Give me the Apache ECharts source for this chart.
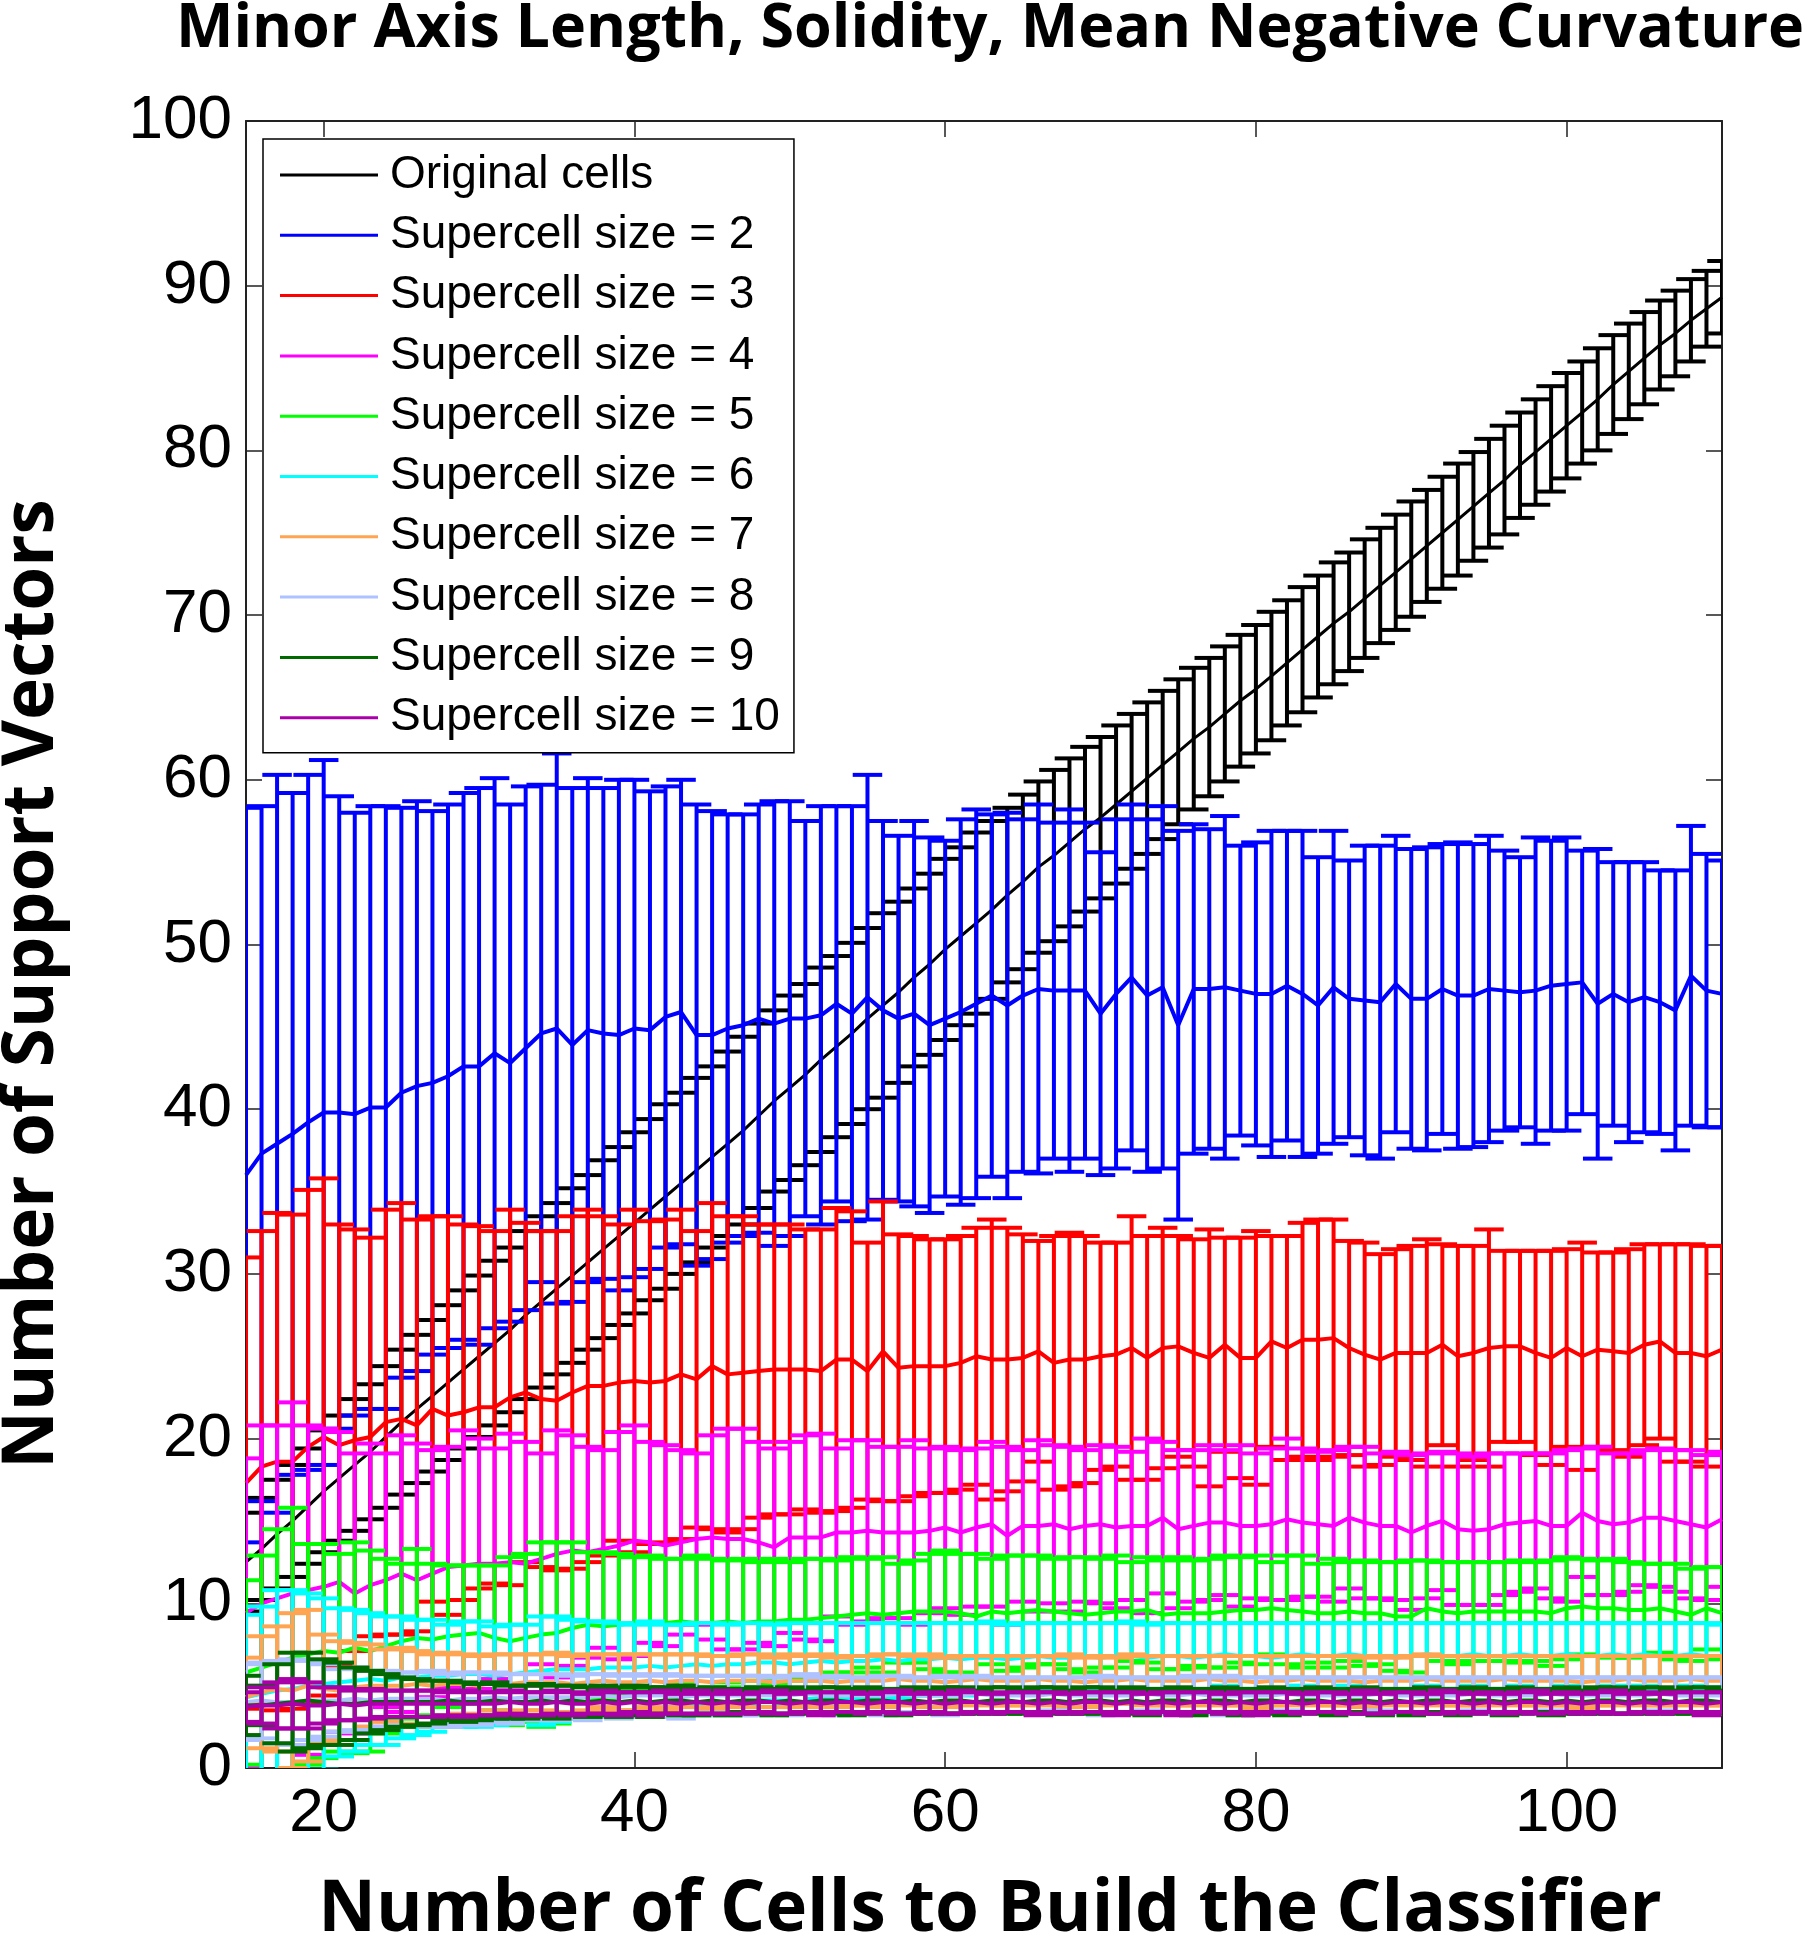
<!DOCTYPE html>
<html><head><meta charset="utf-8">
<script src="https://cdn.jsdelivr.net/npm/echarts@6/dist/echarts.min.js"></script>
<style>html,body{margin:0;padding:0;background:#fff}#c{width:1803px;height:1937px}</style>
</head><body><div id="c"></div>
<script>
const X = [15,16,17,18,19,20,21,22,23,24,25,26,27,28,29,30,31,32,33,34,35,36,37,38,39,40,41,42,43,44,45,46,47,48,49,50,51,52,53,54,55,56,57,58,59,60,61,62,63,64,65,66,67,68,69,70,71,72,73,74,75,76,77,78,79,80,81,82,83,84,85,86,87,88,89,90,91,92,93,94,95,96,97,98,99,100,101,102,103,104,105,106,107,108,109,110];
const X_TICKS = [20,40,60,80,100];

const meanOrig = [12.5,13.3,14.2,15.0,15.9,16.8,17.6,18.4,19.2,20.1,21.0,21.8,22.6,23.4,24.2,25.0,25.8,26.6,27.5,28.3,29.1,29.9,30.7,31.5,32.3,33.1,33.9,34.7,35.5,36.3,37.1,37.9,38.7,39.6,40.5,41.3,42.1,43.0,43.8,44.6,45.5,46.3,47.1,48.0,48.8,49.7,50.5,51.3,52.1,53.0,53.8,54.7,55.4,56.2,57.0,57.7,58.5,59.3,60.1,60.9,61.7,62.5,63.2,64.0,64.8,65.5,66.3,67.1,67.9,68.7,69.5,70.2,71.0,71.8,72.6,73.4,74.2,75.0,75.8,76.6,77.4,78.2,79.1,79.9,80.7,81.5,82.3,83.1,84.0,84.8,85.6,86.4,87.1,87.9,88.6,89.3];
const sdOrig = [3.0,3.1,3.3,3.4,3.5,3.7,3.8,4.0,4.1,4.3,4.4,4.5,4.6,4.7,4.8,4.9,5.0,5.0,5.1,5.2,5.2,5.3,5.3,5.4,5.4,5.5,5.5,5.6,5.5,5.6,5.5,5.6,5.7,5.6,5.5,5.6,5.5,5.6,5.5,5.5,5.5,5.6,5.5,5.4,5.5,5.5,5.4,5.5,5.4,5.3,5.3,5.2,5.2,5.1,5.0,4.9,4.8,4.7,4.6,4.5,4.4,4.3,4.2,4.1,4.0,3.9,3.9,3.8,3.8,3.7,3.7,3.6,3.6,3.5,3.5,3.5,3.4,3.4,3.4,3.3,3.3,3.3,3.2,3.2,3.2,3.2,3.1,3.1,3.0,2.9,2.8,2.7,2.6,2.5,2.3,2.2];

const meanS2 = [36.0,37.3,37.9,38.5,39.2,39.8,39.8,39.7,40.1,40.1,41.0,41.4,41.6,42.0,42.6,42.6,43.4,42.8,43.7,44.6,44.9,43.9,44.8,44.6,44.5,44.9,44.8,45.6,45.9,44.5,44.5,44.9,45.1,45.5,45.2,45.5,45.5,45.7,46.4,45.8,46.8,46.0,45.5,45.8,45.1,45.5,45.9,46.4,46.9,46.3,46.9,47.3,47.2,47.2,47.2,45.8,47.0,48.0,46.9,47.4,45.1,47.3,47.3,47.4,47.2,47.0,47.0,47.5,47.0,46.3,47.4,46.7,46.6,46.5,47.6,46.7,46.7,47.3,46.9,46.9,47.3,47.2,47.1,47.2,47.5,47.6,47.7,46.4,47.0,46.5,46.8,46.5,46.0,48.1,47.2,47.0];
const sdS2 = [22.3,21.1,22.4,20.7,21.1,21.4,19.2,18.3,18.3,18.3,17.3,17.3,16.5,16.5,16.6,16.9,16.7,15.7,15.9,15.1,16.7,15.6,15.3,14.9,15.5,15.1,14.5,14.0,14.1,14.0,13.6,13.0,12.8,13.0,13.5,13.2,12.0,12.7,12.0,12.6,13.5,11.5,11.1,11.7,11.4,10.8,11.7,11.8,11.0,11.7,10.7,11.2,10.2,11.0,10.2,9.8,10.6,10.5,10.7,11.0,11.8,10.0,9.7,10.4,8.8,9.2,9.9,9.4,9.9,9.0,9.5,8.4,9.4,9.5,9.0,9.1,9.2,8.8,9.3,9.2,9.3,8.5,8.2,9.3,8.8,8.9,8.0,9.4,8.0,8.5,8.2,8.0,8.5,9.1,8.3,8.1];

const meanS3 = [17.3,18.3,18.6,18.6,19.5,20.1,19.6,19.9,20.1,21.0,21.2,20.8,21.8,21.4,21.6,21.9,21.9,22.5,22.8,22.4,22.3,22.8,23.2,23.2,23.4,23.5,23.4,23.5,23.9,23.6,24.4,23.9,24.0,24.1,24.2,24.2,24.2,24.1,24.8,24.8,24.1,25.3,24.3,24.4,24.4,24.4,24.6,25.0,24.8,24.8,24.9,25.3,24.6,24.8,24.8,25.0,25.1,25.5,24.9,25.5,25.6,25.2,24.9,25.7,24.9,24.9,25.9,25.5,26.0,26.0,26.1,25.5,25.1,24.8,25.2,25.2,25.2,25.7,25.0,25.2,25.5,25.6,25.6,25.2,24.9,25.5,25.0,25.4,25.3,25.2,25.7,25.9,25.2,25.2,25.0,25.4];
const sdS3 = [13.7,14.3,15.1,15.0,15.6,15.7,13.4,12.8,12.1,12.9,13.1,12.5,11.7,12.1,11.4,11.0,10.7,11.4,10.3,10.2,10.3,10.7,10.7,10.3,9.6,10.4,9.8,9.8,10.0,9.0,9.9,9.6,9.5,8.9,8.8,8.8,8.5,8.6,9.2,9.0,7.8,9.1,8.1,7.9,7.7,7.7,7.7,7.8,8.5,8.0,7.5,6.7,7.7,7.7,7.5,6.9,6.8,8.0,7.4,7.3,6.7,6.9,7.8,6.5,7.3,7.7,6.4,6.8,7.1,7.3,7.2,6.5,6.8,6.4,6.3,6.5,6.9,6.1,6.7,6.5,7.2,5.8,5.8,6.2,6.5,6.0,6.9,5.9,6.0,6.3,6.1,5.9,6.6,6.6,6.7,6.3];

const meanS4 = [9.4,10.0,10.3,10.6,10.8,11.0,11.3,10.6,11.1,11.4,11.8,11.4,11.8,12.2,12.3,12.4,12.4,12.5,12.4,12.7,13.0,13.2,13.1,13.3,13.5,13.8,13.7,13.5,13.7,13.9,14.0,13.9,13.9,13.7,13.4,14.0,14.0,14.0,14.3,14.3,14.4,14.3,14.3,14.3,14.4,14.6,14.3,14.6,14.8,14.1,14.7,14.7,14.8,14.5,14.7,14.8,14.6,14.7,14.7,15.2,14.5,14.7,14.9,14.9,14.7,14.7,14.8,15.1,14.9,14.8,14.7,15.2,14.9,14.7,14.7,14.3,14.7,15.0,14.5,14.4,14.5,14.8,14.9,15.0,14.7,14.7,15.5,15.0,14.8,14.9,15.2,15.2,15.0,14.8,14.6,15.1];
const sdS4 = [9.4,10.8,10.5,11.6,10.0,9.6,9.1,8.5,8.6,7.7,8.4,8.3,7.5,7.3,8.2,7.6,7.0,7.8,7.4,6.4,7.5,7.0,6.4,6.0,6.9,7.0,6.1,6.1,5.6,5.2,6.2,6.7,6.7,6.1,6.0,5.8,6.2,6.3,5.1,5.6,5.5,5.2,5.2,5.6,5.0,4.9,5.0,4.8,5.0,5.4,4.6,5.2,4.8,5.0,4.6,4.8,4.9,4.5,5.3,4.6,4.8,4.6,4.7,4.4,4.9,4.4,4.6,4.9,4.5,4.4,4.6,4.3,4.6,4.4,4.5,4.7,4.4,4.2,4.6,4.5,4.6,4.3,4.2,4.1,4.4,4.6,3.9,4.5,4.3,4.2,4.1,4.2,4.3,4.5,4.4,4.1];

const meanS5 = [5.8,6.1,6.4,6.7,6.9,7.1,7.0,7.3,7.1,7.4,7.7,7.9,7.8,8.0,8.1,8.2,7.9,7.7,7.9,8.1,8.2,8.5,8.7,8.6,8.7,8.8,8.8,8.8,8.9,8.8,8.8,8.9,8.8,8.9,8.9,9.0,9.0,9.1,9.2,9.3,9.4,9.3,9.4,9.5,9.5,9.5,9.4,9.2,9.5,9.4,9.5,9.6,9.5,9.4,9.3,9.4,9.5,9.5,9.6,9.3,9.4,9.4,9.4,9.5,9.6,9.6,9.7,9.6,9.5,9.4,9.4,9.5,9.4,9.4,9.2,9.2,9.7,9.5,9.4,9.5,9.5,9.5,9.5,9.5,9.4,9.7,9.8,9.7,9.7,9.6,9.6,9.7,9.5,9.3,9.7,9.4];
const sdS5 = [5.6,6.8,8.1,9.1,6.7,6.5,6.0,6.4,6.1,5.3,4.7,5.4,4.6,4.3,4.2,4.1,4.4,5.1,5.1,5.6,5.5,5.2,4.4,4.5,4.3,4.0,4.1,3.9,3.8,4.1,3.9,3.7,3.9,3.6,3.8,3.5,3.7,3.6,3.4,3.5,3.3,3.5,3.0,3.1,3.5,3.7,3.6,3.8,3.2,3.5,3.4,3.3,3.2,3.4,3.5,3.3,3.4,3.0,3.2,3.3,3.4,3.2,3.3,3.4,3.2,3.3,2.8,3.3,3.4,3.0,3.3,3.0,3.2,3.1,3.3,3.4,2.9,3.0,3.1,3.0,3.0,3.0,3.1,3.0,3.2,3.1,2.9,2.9,3.0,2.9,2.8,2.7,2.9,2.8,2.5,2.8];

const meanS6 = [4.3,4.5,4.7,4.8,5.0,5.1,5.2,5.3,5.4,5.3,5.5,5.5,5.6,5.6,5.7,5.7,5.6,5.7,5.8,5.9,6.0,6.0,6.0,6.1,6.1,6.1,6.2,6.1,6.2,6.3,6.2,6.3,6.3,6.4,6.4,6.3,6.4,6.5,6.4,6.5,6.5,6.6,6.5,6.6,6.6,6.7,6.6,6.7,6.7,6.6,6.7,6.8,6.7,6.7,6.8,6.7,6.8,6.8,6.7,6.8,6.8,6.7,6.8,6.9,6.8,6.8,6.7,6.8,6.9,6.8,6.8,6.9,6.8,6.8,6.7,6.8,6.9,6.8,6.8,6.9,6.8,6.8,6.9,6.8,6.8,6.9,6.8,6.8,6.9,6.8,6.9,6.8,6.8,6.9,6.8,6.8];
const sdS6 = [5.0,5.3,6.1,6.0,5.6,5.2,4.5,4.3,4.0,3.9,3.7,3.5,3.4,3.1,3.2,3.2,3.0,3.0,2.9,3.3,3.2,3.0,2.9,2.8,2.7,2.6,2.7,2.6,2.5,2.5,2.6,2.4,2.5,2.4,2.3,2.5,2.4,2.3,2.4,2.3,2.3,2.2,2.3,2.2,2.2,2.1,2.2,2.1,2.2,2.1,2.1,2.0,2.1,2.1,2.0,2.1,2.0,2.1,2.0,2.0,2.0,2.1,2.0,1.9,2.0,2.0,2.1,2.0,1.9,2.0,2.0,1.9,2.0,2.0,2.1,2.0,1.9,2.0,2.0,1.9,2.0,2.0,1.9,2.0,2.0,1.9,2.0,2.0,1.9,2.0,1.9,2.0,2.0,1.9,2.0,1.9];

const meanS7 = [4.3,4.6,4.8,4.7,5.0,4.8,4.7,4.9,5.0,5.0,5.0,5.1,5.0,5.1,5.1,5.0,5.2,5.1,5.2,5.2,5.2,5.1,5.2,5.3,5.2,5.2,5.3,5.2,5.3,5.3,5.2,5.3,5.3,5.3,5.2,5.3,5.3,5.3,5.2,5.3,5.3,5.3,5.4,5.3,5.3,5.2,5.3,5.4,5.3,5.3,5.3,5.4,5.3,5.3,5.2,5.3,5.3,5.4,5.3,5.3,5.3,5.3,5.4,5.3,5.3,5.2,5.3,5.3,5.4,5.3,5.3,5.3,5.2,5.3,5.3,5.3,5.4,5.3,5.3,5.3,5.3,5.4,5.3,5.3,5.3,5.3,5.2,5.3,5.3,5.4,5.3,5.3,5.3,5.4,5.3,5.3];
const sdS7 = [2.4,3.4,3.8,4.7,4.6,3.3,3.0,2.7,2.5,2.2,2.3,2.0,1.9,1.9,1.8,1.8,1.7,1.8,1.7,1.7,1.8,1.7,1.7,1.6,1.7,1.7,1.6,1.7,1.6,1.6,1.6,1.5,1.6,1.6,1.5,1.6,1.5,1.6,1.5,1.5,1.5,1.6,1.5,1.5,1.6,1.5,1.5,1.4,1.5,1.5,1.5,1.4,1.5,1.6,1.5,1.5,1.4,1.5,1.5,1.5,1.5,1.5,1.4,1.5,1.5,1.6,1.5,1.5,1.4,1.5,1.5,1.5,1.5,1.5,1.4,1.5,1.5,1.5,1.5,1.5,1.5,1.4,1.5,1.5,1.5,1.5,1.6,1.5,1.5,1.4,1.5,1.5,1.5,1.4,1.5,1.5];

const meanS8 = [4.0,4.1,4.0,4.0,4.1,4.1,4.1,4.2,4.1,4.2,4.2,4.2,4.2,4.1,4.2,4.2,4.3,4.2,4.3,4.3,4.3,4.3,4.3,4.4,4.3,4.4,4.4,4.4,4.3,4.4,4.4,4.4,4.4,4.4,4.4,4.4,4.5,4.4,4.4,4.4,4.4,4.4,4.5,4.4,4.4,4.4,4.4,4.5,4.4,4.4,4.4,4.4,4.5,4.4,4.4,4.4,4.4,4.4,4.5,4.4,4.4,4.5,4.4,4.4,4.4,4.4,4.4,4.5,4.4,4.4,4.4,4.4,4.4,4.5,4.4,4.4,4.4,4.4,4.4,4.5,4.4,4.4,4.4,4.4,4.5,4.4,4.4,4.4,4.4,4.4,4.4,4.5,4.4,4.4,4.4,4.4];
const sdS8 = [2.3,2.3,2.5,2.6,2.4,2.2,1.9,1.9,1.8,1.7,1.6,1.6,1.7,1.6,1.6,1.6,1.5,1.5,1.4,1.4,1.4,1.3,1.4,1.3,1.3,1.3,1.2,1.3,1.3,1.2,1.2,1.2,1.2,1.2,1.1,1.2,1.2,1.1,1.2,1.1,1.1,1.2,1.1,1.1,1.1,1.2,1.1,1.1,1.1,1.1,1.1,1.1,1.0,1.1,1.1,1.2,1.1,1.1,1.0,1.1,1.1,1.1,1.1,1.2,1.1,1.1,1.1,1.0,1.1,1.1,1.1,1.1,1.1,1.0,1.1,1.1,1.1,1.1,1.1,1.0,1.1,1.1,1.1,1.1,1.0,1.1,1.1,1.1,1.1,1.1,1.1,1.0,1.1,1.1,1.1,1.1];

const meanS9 = [3.8,3.8,3.9,4.0,4.1,4.0,3.9,3.9,4.0,4.0,4.0,4.0,4.0,4.1,4.0,4.0,4.1,4.0,4.0,4.1,4.0,4.1,4.0,4.1,4.0,4.1,4.0,4.1,4.1,4.0,4.1,4.0,4.1,4.1,4.0,4.1,4.0,4.1,4.1,4.0,4.1,4.1,4.0,4.1,4.0,4.1,4.1,4.0,4.1,4.1,4.0,4.1,4.1,4.0,4.1,4.1,4.0,4.1,4.0,4.1,4.1,4.0,4.1,4.1,4.0,4.1,4.1,4.0,4.1,4.1,4.0,4.1,4.1,4.0,4.1,4.0,4.1,4.1,4.0,4.1,4.1,4.0,4.1,4.1,4.0,4.1,4.0,4.1,4.1,4.0,4.1,4.1,4.0,4.1,4.1,4.0];
const sdS9 = [1.8,1.2,2.4,3.0,2.9,2.6,2.5,2.2,1.9,1.7,1.5,1.4,1.3,1.2,1.2,1.1,1.1,1.0,1.0,1.0,1.0,0.9,0.9,0.9,0.9,0.9,0.9,0.8,0.9,0.8,0.8,0.8,0.7,0.8,0.8,0.8,0.7,0.8,0.8,0.8,0.8,0.7,0.8,0.8,0.7,0.8,0.8,0.7,0.8,0.8,0.7,0.8,0.8,0.7,0.8,0.8,0.7,0.8,0.8,0.7,0.8,0.8,0.7,0.8,0.8,0.7,0.8,0.8,0.7,0.8,0.8,0.7,0.8,0.8,0.7,0.8,0.8,0.7,0.8,0.8,0.7,0.8,0.8,0.7,0.8,0.8,0.7,0.8,0.8,0.7,0.8,0.8,0.7,0.8,0.8,0.7];

const meanS10 = [3.7,3.8,3.8,3.9,3.8,3.8,3.9,3.8,3.9,3.9,3.9,3.9,3.9,3.9,3.9,3.9,3.9,4.0,3.9,3.9,4.0,3.9,3.9,4.0,3.9,4.0,3.9,4.0,3.9,4.0,3.9,4.0,3.9,4.0,4.0,3.9,4.0,3.9,4.0,4.0,3.9,4.0,4.0,3.9,4.0,3.9,4.0,4.0,3.9,4.0,4.0,3.9,4.0,3.9,4.0,4.0,3.9,4.0,3.9,4.0,3.9,4.0,4.0,3.9,4.0,3.9,4.0,4.0,3.9,4.0,4.0,3.9,4.0,3.9,4.0,4.0,3.9,4.0,4.0,3.9,4.0,3.9,4.0,4.0,3.9,4.0,3.9,4.0,4.0,3.9,4.0,3.9,4.0,4.0,3.9,4.0];
const sdS10 = [0.9,1.1,1.4,1.5,1.4,1.1,1.0,0.9,0.9,0.8,0.8,0.8,0.8,0.7,0.8,0.7,0.7,0.7,0.7,0.7,0.7,0.7,0.6,0.7,0.7,0.6,0.7,0.7,0.6,0.7,0.6,0.7,0.6,0.6,0.7,0.6,0.6,0.7,0.6,0.6,0.6,0.6,0.7,0.6,0.6,0.6,0.7,0.6,0.6,0.6,0.6,0.7,0.6,0.6,0.6,0.6,0.7,0.6,0.6,0.6,0.7,0.6,0.6,0.6,0.6,0.7,0.6,0.6,0.6,0.6,0.6,0.6,0.7,0.6,0.6,0.6,0.6,0.7,0.6,0.6,0.6,0.6,0.6,0.7,0.6,0.6,0.6,0.6,0.7,0.6,0.6,0.6,0.6,0.6,0.7,0.6];

const seriesNames = ['Original cells','Supercell size = 2','Supercell size = 3','Supercell size = 4','Supercell size = 5','Supercell size = 6','Supercell size = 7','Supercell size = 8','Supercell size = 9','Supercell size = 10'];
const seriesMeans = [meanOrig, meanS2, meanS3, meanS4, meanS5, meanS6, meanS7, meanS8, meanS9, meanS10];
const seriesSds = [sdOrig, sdS2, sdS3, sdS4, sdS5, sdS6, sdS7, sdS8, sdS9, sdS10];
const seriesColors = ['#000000','#0000FF','#FF0000','#FF00FF','#00FF00','#00FFFF','#FFA552','#AEC2FF','#006A00','#AA00AA'];

const CAP = 0.95;      // half width of the error-bar caps in x units
const BAR_W = 4;
const BOLD_FONT = '"Open Sans", Lato, sans-serif';
const TICK_FONT = '"Liberation Sans", Arial, sans-serif';

const chart = echarts.init(document.getElementById('c'), null, {renderer: 'canvas'});

function errSeries(k) {
  const color = seriesColors[k];
  return {
    type: 'custom',
    name: seriesNames[k] + ' err',
    z: 10 + 2 * k,
    clip: true,
    silent: true,
    animation: false,
    data: X.map((x, i) => [x, seriesMeans[k][i], seriesSds[k][i]]),
    encode: {x: 0, y: 1},
    renderItem: function (params, api) {
      const x = api.value(0), m = api.value(1), s = api.value(2);
      const top = api.coord([x, m + s]);
      const bot = api.coord([x, m - s]);
      const l = api.coord([x - CAP, m])[0];
      const r = api.coord([x + CAP, m])[0];
      const st = () => ({stroke: color, lineWidth: BAR_W, fill: null});
      return {
        type: 'group',
        children: [
          {type: 'line', shape: {x1: top[0], y1: top[1], x2: bot[0], y2: bot[1]}, style: st()},
          {type: 'line', shape: {x1: l, y1: top[1], x2: r, y2: top[1]}, style: st()},
          {type: 'line', shape: {x1: l, y1: bot[1], x2: r, y2: bot[1]}, style: st()}
        ]
      };
    }
  };
}
function meanSeries(k) {
  return {
    type: 'line',
    name: seriesNames[k],
    z: 11 + 2 * k,
    clip: true,
    silent: true,
    animation: false,
    showSymbol: false,
    symbol: 'none',
    color: seriesColors[k],
    lineStyle: {color: seriesColors[k], width: k === 0 ? 3 : 4},
    data: X.map((x, i) => [x, seriesMeans[k][i]])
  };
}
const series = [];
for (let k = 0; k < seriesNames.length; k++) { series.push(errSeries(k)); series.push(meanSeries(k)); }

const axisLineStyle = {color: '#222', width: 2};
const tickStyle = {color: '#222', width: 1.5};

chart.setOption({
  backgroundColor: '#fff',
  animation: false,
  grid: {left: 246, right: 81, top: 121, bottom: 169, containLabel: false, outerBoundsMode: 'none'},
  xAxis: [
    {type: 'value', min: 15, max: 110, position: 'bottom',
     axisLine: {show: true, onZero: false, lineStyle: axisLineStyle},
     axisTick: {show: true, inside: true, length: 16, customValues: X_TICKS, lineStyle: tickStyle},
     axisLabel: {show: true, customValues: X_TICKS, color: '#000', fontSize: 62, fontFamily: TICK_FONT, margin: 15},
     splitLine: {show: false}},
    {type: 'value', min: 15, max: 110, position: 'top',
     axisLine: {show: true, onZero: false, lineStyle: axisLineStyle},
     axisTick: {show: true, inside: true, length: 16, customValues: X_TICKS, lineStyle: tickStyle},
     axisLabel: {show: false}, splitLine: {show: false}}
  ],
  yAxis: [
    {type: 'value', min: 0, max: 100, interval: 10, position: 'left',
     axisLine: {show: true, onZero: false, lineStyle: axisLineStyle},
     axisTick: {show: true, inside: true, length: 16, lineStyle: tickStyle},
     axisLabel: {show: true, color: '#000', fontSize: 62, fontFamily: TICK_FONT, margin: 14},
     splitLine: {show: false}},
    {type: 'value', min: 0, max: 100, interval: 10, position: 'right',
     axisLine: {show: true, onZero: false, lineStyle: axisLineStyle},
     axisTick: {show: true, inside: true, length: 16, lineStyle: tickStyle},
     axisLabel: {show: false}, splitLine: {show: false}}
  ],
  legend: {
    show: true, z: 100, zlevel: 0,
    orient: 'vertical', left: 263, top: 139,
    data: seriesNames,
    selectedMode: false,
    icon: 'rect', itemWidth: 98, itemHeight: 3, itemGap: 10.3,
    backgroundColor: '#fff', borderColor: '#000', borderWidth: 1.5,
    padding: [11, 14, 10, 17],
    textStyle: {fontSize: 46, fontFamily: TICK_FONT, color: '#000', lineHeight: 50, padding: [0, 0, 0, 7]}
  },
  graphic: [
    {type: 'text', x: 990, y: 30, z: 200, style: {text: 'Minor Axis Length, Solidity, Mean Negative Curvature', fill: '#000', font: 'bold 61px ' + BOLD_FONT, align: 'center', verticalAlign: 'middle'}},
    {type: 'text', x: 990, y: 1911, z: 200, style: {text: 'Number of Cells to Build the Classifier', fill: '#000', font: 'bold 71px ' + BOLD_FONT, align: 'center', verticalAlign: 'middle'}},
    {type: 'text', x: 33, y: 984, rotation: Math.PI / 2, z: 200, style: {text: 'Number of Support Vectors', fill: '#000', font: 'bold 71px ' + BOLD_FONT, align: 'center', verticalAlign: 'middle'}}
  ],
  series: series
});
</script>
</body></html>
